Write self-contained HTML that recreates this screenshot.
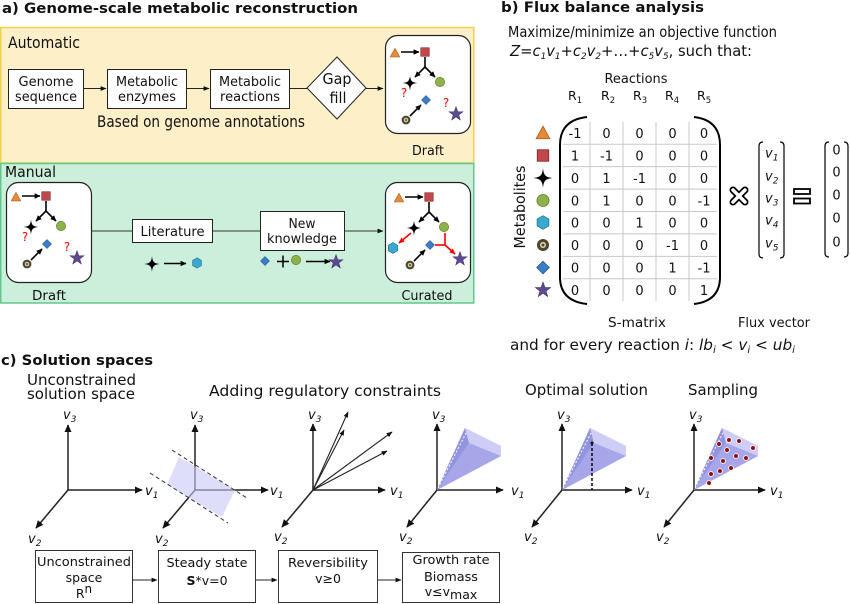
<!DOCTYPE html>
<html><head><meta charset="utf-8"><style>
html,body{margin:0;padding:0;background:#fff;}
svg{display:block;}
text{font-family:"DejaVu Sans","Liberation Sans",sans-serif;fill:#111;}
.it{font-style:italic;}
</style></head><body>
<svg width="850" height="604" viewBox="0 0 850 604" xmlns="http://www.w3.org/2000/svg">
<defs>
 <marker id="ah" viewBox="0 0 10 10" refX="9" refY="5" markerWidth="8" markerHeight="8" orient="auto" markerUnits="userSpaceOnUse"><path d="M0,0.5 L10,5 L0,9.5 z" fill="#111"/></marker>
 <marker id="ahs" viewBox="0 0 10 10" refX="9" refY="5" markerWidth="6" markerHeight="6" orient="auto" markerUnits="userSpaceOnUse"><path d="M0,0.5 L10,5 L0,9.5 z" fill="#000"/></marker>
 <marker id="ahr" viewBox="0 0 10 10" refX="9" refY="5" markerWidth="6" markerHeight="6" orient="auto" markerUnits="userSpaceOnUse"><path d="M0,0.5 L10,5 L0,9.5 z" fill="#f00"/></marker>
 <marker id="aht" viewBox="0 0 10 10" refX="9" refY="5" markerWidth="6" markerHeight="6" orient="auto" markerUnits="userSpaceOnUse"><path d="M0,1 L10,5 L0,9 z" fill="#111"/></marker>

 <g id="tri"><polygon points="0,-6 6,5 -6,5" fill="#e8893a" stroke="#a85c1e" stroke-width="0.7"/></g>
 <g id="sq"><rect x="-5" y="-5" width="10" height="10" fill="#c2474b" stroke="#7a2426" stroke-width="0.7"/></g>
 <g id="st4"><path d="M0,-8 C0.6,-2 2,-0.6 8,0 C2,0.6 0.6,2 0,8 C-0.6,2 -2,0.6 -8,0 C-2,-0.6 -0.6,-2 0,-8Z" fill="#000"/></g>
 <g id="ci"><circle r="5.5" fill="#8db24b" stroke="#5a7a25" stroke-width="0.7"/></g>
 <g id="hx"><polygon points="0,-6.5 5.6,-3.25 5.6,3.25 0,6.5 -5.6,3.25 -5.6,-3.25" fill="#3aa9cd" stroke="#1d7395" stroke-width="0.7"/></g>
 <g id="rg"><circle r="5.5" fill="#4b4632"/><circle r="2.8" fill="#d9cfa4"/><circle r="1.3" fill="#4b4632"/></g>
 <g id="dm"><polygon points="0,-6 6,0 0,6 -6,0" fill="#3b7ec5" stroke="#1f5090" stroke-width="0.7"/></g>
 <g id="s5"><path d="M0,-7 L1.65,-2.27 L6.66,-2.16 L2.66,0.87 L4.11,5.66 L0,2.8 L-4.11,5.66 L-2.66,0.87 L-6.66,-2.16 L-1.65,-2.27 Z" fill="#5d4b8e" stroke="#3d2d6e" stroke-width="0.5"/></g>

 <g id="net">
  <use href="#tri" transform="translate(395,53) scale(0.8)"/>
  <line x1="401" y1="52" x2="419" y2="52" stroke="#000" stroke-width="1.6" marker-end="url(#ahs)"/>
  <use href="#sq" transform="translate(425,52) scale(0.85)"/>
  <line x1="425" y1="57" x2="425" y2="67" stroke="#000" stroke-width="1.6"/>
  <line x1="425" y1="67" x2="415" y2="77" stroke="#000" stroke-width="1.6" marker-end="url(#ahs)"/>
  <line x1="425" y1="67" x2="435" y2="77" stroke="#000" stroke-width="1.6" marker-end="url(#ahs)"/>
  <use href="#st4" transform="translate(410,83) scale(0.95)"/>
  <use href="#ci" transform="translate(440,82) scale(0.85)"/>
  <use href="#dm" transform="translate(426,100) scale(0.75)"/>
  <use href="#rg" transform="translate(406,120) scale(0.8)"/>
  <line x1="410" y1="116" x2="421" y2="105" stroke="#000" stroke-width="1.6" marker-end="url(#ahs)"/>
  <use href="#s5" transform="translate(456,114) scale(1.05)"/>
 </g>
</defs>

<!-- ================= Panel a ================= -->
<text x="2" y="13" font-size="14" font-weight="bold" textLength="356" lengthAdjust="spacingAndGlyphs">a) Genome-scale metabolic reconstruction</text>

<rect x="0.75" y="27.5" width="473" height="135.5" fill="#fdefc8" stroke="#f2d04c" stroke-width="1.5"/>
<rect x="0.75" y="163.5" width="473" height="139.5" fill="#ccefdb" stroke="#5fc98b" stroke-width="1.5"/>

<text x="8" y="48" font-size="16" textLength="72" lengthAdjust="spacingAndGlyphs">Automatic</text>
<text x="5" y="177" font-size="15" textLength="51" lengthAdjust="spacingAndGlyphs">Manual</text>

<rect x="8.5" y="69.5" width="75" height="39" fill="#fff" stroke="#222" stroke-width="1"/>
<rect x="107.5" y="69.5" width="79" height="39" fill="#fff" stroke="#222" stroke-width="1"/>
<rect x="210.5" y="69.5" width="79" height="39" fill="#fff" stroke="#222" stroke-width="1"/>
<text x="46" y="86" font-size="13" text-anchor="middle" textLength="55" lengthAdjust="spacingAndGlyphs">Genome</text>
<text x="46" y="101" font-size="13" text-anchor="middle" textLength="62" lengthAdjust="spacingAndGlyphs">sequence</text>
<text x="147" y="86" font-size="13" text-anchor="middle" textLength="62" lengthAdjust="spacingAndGlyphs">Metabolic</text>
<text x="147" y="101" font-size="13" text-anchor="middle" textLength="58" lengthAdjust="spacingAndGlyphs">enzymes</text>
<text x="250" y="86" font-size="13" text-anchor="middle" textLength="62" lengthAdjust="spacingAndGlyphs">Metabolic</text>
<text x="250" y="101" font-size="13" text-anchor="middle" textLength="60" lengthAdjust="spacingAndGlyphs">reactions</text>
<line x1="83.5" y1="88.5" x2="106" y2="88.5" stroke="#222" stroke-width="1" marker-end="url(#aht)"/>
<line x1="186.5" y1="88.5" x2="209" y2="88.5" stroke="#222" stroke-width="1" marker-end="url(#aht)"/>
<line x1="289.5" y1="88.5" x2="307" y2="88.5" stroke="#222" stroke-width="1"/>
<polygon points="337,57 366,88 337,119 307,88" fill="#fff" stroke="#222" stroke-width="1"/>
<text x="337" y="84" font-size="15" text-anchor="middle" textLength="29" lengthAdjust="spacingAndGlyphs">Gap</text>
<text x="338" y="103" font-size="15" text-anchor="middle" textLength="17" lengthAdjust="spacingAndGlyphs">fill</text>
<line x1="366" y1="88.5" x2="383" y2="88.5" stroke="#222" stroke-width="1" marker-end="url(#aht)"/>
<text x="97" y="127" font-size="16" textLength="208" lengthAdjust="spacingAndGlyphs">Based on genome annotations</text>

<!-- auto draft -->
<rect x="385.5" y="35.5" width="85" height="98" rx="12" fill="#fff" stroke="#222" stroke-width="1.2"/>
<use href="#net"/>
<text x="404" y="97" font-size="12" style="fill:#f00" text-anchor="middle">?</text>
<text x="446" y="107" font-size="12" style="fill:#f00" text-anchor="middle">?</text>
<text x="428" y="155" font-size="13" text-anchor="middle" textLength="32" lengthAdjust="spacingAndGlyphs">Draft</text>

<!-- manual draft -->
<rect x="6.5" y="182.5" width="85" height="100" rx="12" fill="#fff" stroke="#222" stroke-width="1.2"/>
<use href="#net" transform="translate(-379,144)"/>
<text x="25" y="241" font-size="12" style="fill:#f00" text-anchor="middle">?</text>
<text x="67" y="251" font-size="12" style="fill:#f00" text-anchor="middle">?</text>
<text x="49" y="300" font-size="13" text-anchor="middle" textLength="34" lengthAdjust="spacingAndGlyphs">Draft</text>

<line x1="91.5" y1="231" x2="132" y2="231" stroke="#333" stroke-width="1"/>
<rect x="132.5" y="219.5" width="80" height="23" fill="#fff" stroke="#222" stroke-width="1"/>
<text x="172.5" y="236" font-size="13" text-anchor="middle" textLength="64" lengthAdjust="spacingAndGlyphs">Literature</text>
<line x1="212.5" y1="231" x2="260" y2="231" stroke="#333" stroke-width="1"/>
<rect x="260.5" y="211.5" width="84" height="39" fill="#fff" stroke="#222" stroke-width="1"/>
<text x="302" y="228" font-size="13" text-anchor="middle" textLength="27" lengthAdjust="spacingAndGlyphs">New</text>
<text x="302" y="243" font-size="13" text-anchor="middle" textLength="70" lengthAdjust="spacingAndGlyphs">knowledge</text>
<line x1="344.5" y1="231" x2="383" y2="231" stroke="#333" stroke-width="1" marker-end="url(#aht)"/>

<use href="#st4" transform="translate(152,264)"/>
<line x1="164" y1="263.5" x2="186" y2="263.5" stroke="#000" stroke-width="1.6" marker-end="url(#ahs)"/>
<use href="#hx" transform="translate(197,263) scale(0.8)"/>
<use href="#dm" transform="translate(265,261) scale(0.75)"/>
<line x1="277" y1="261.5" x2="289" y2="261.5" stroke="#000" stroke-width="1.5"/>
<line x1="283" y1="255.5" x2="283" y2="267.5" stroke="#000" stroke-width="1.5"/>
<use href="#ci" transform="translate(296,260) scale(0.85)"/>
<line x1="306" y1="261.5" x2="330" y2="261.5" stroke="#000" stroke-width="1.6" marker-end="url(#ahs)"/>
<use href="#s5" transform="translate(336,262) scale(1.05)"/>

<!-- curated -->
<rect x="385.5" y="182.5" width="85" height="100" rx="12" fill="#fff" stroke="#222" stroke-width="1.2"/>
<use href="#net" transform="translate(4,145)"/>
<use href="#hx" transform="translate(393,248) scale(0.85)"/>
<line x1="411" y1="233" x2="399" y2="243" stroke="#f00" stroke-width="1.6" marker-end="url(#ahr)"/>
<line x1="445" y1="233" x2="445" y2="245" stroke="#f00" stroke-width="1.6"/>
<line x1="435" y1="245" x2="445" y2="245" stroke="#f00" stroke-width="1.6"/>
<line x1="445" y1="245" x2="455" y2="254" stroke="#f00" stroke-width="1.6" marker-end="url(#ahr)"/>
<text x="427" y="300" font-size="13" text-anchor="middle" textLength="51" lengthAdjust="spacingAndGlyphs">Curated</text>

<!-- ================= Panel b ================= -->
<text x="501" y="12" font-size="14" font-weight="bold" textLength="203" lengthAdjust="spacingAndGlyphs">b) Flux balance analysis</text>
<text x="508" y="37" font-size="15.5" textLength="269" lengthAdjust="spacingAndGlyphs">Maximize/minimize an objective function</text>
<text x="510" y="56" font-size="15" textLength="242" lengthAdjust="spacingAndGlyphs"><tspan class="it">Z</tspan>=<tspan class="it">c</tspan><tspan class="it" font-size="9" dy="3">1</tspan><tspan class="it" dy="-3">v</tspan><tspan class="it" font-size="9" dy="3">1</tspan><tspan dy="-3">+</tspan><tspan class="it">c</tspan><tspan class="it" font-size="9" dy="3">2</tspan><tspan class="it" dy="-3">v</tspan><tspan class="it" font-size="9" dy="3">2</tspan><tspan dy="-3">+…+</tspan><tspan class="it">c</tspan><tspan class="it" font-size="9" dy="3">5</tspan><tspan class="it" dy="-3">v</tspan><tspan class="it" font-size="9" dy="3">5</tspan><tspan dy="-3">, such that:</tspan></text>

<text x="636" y="83" font-size="13" text-anchor="middle" textLength="63" lengthAdjust="spacingAndGlyphs">Reactions</text>
<text x="568" y="100" font-size="12.5">R<tspan font-size="8.5" dy="3">1</tspan></text>
<text x="601" y="100" font-size="12.5">R<tspan font-size="8.5" dy="3">2</tspan></text>
<text x="633" y="100" font-size="12.5">R<tspan font-size="8.5" dy="3">3</tspan></text>
<text x="665" y="100" font-size="12.5">R<tspan font-size="8.5" dy="3">4</tspan></text>
<text x="697" y="100" font-size="12.5">R<tspan font-size="8.5" dy="3">5</tspan></text>

<text transform="translate(525,207) rotate(-90)" x="0" y="0" font-size="15" text-anchor="middle" textLength="83" lengthAdjust="spacingAndGlyphs">Metabolites</text>

<use href="#tri" transform="translate(543,133) scale(1.15)"/>
<use href="#sq" transform="translate(543,155.5) scale(1.15)"/>
<use href="#st4" transform="translate(543,178) scale(1.25)"/>
<use href="#ci" transform="translate(543,200.5) scale(1.1)"/>
<use href="#hx" transform="translate(543,222.5) scale(1.05)"/>
<use href="#rg" transform="translate(543,245) scale(1.1)"/>
<use href="#dm" transform="translate(543,267.5) scale(1.05)"/>
<use href="#s5" transform="translate(543,290) scale(1.15)"/>

<g stroke="#c8c8c8" stroke-width="1">
 <line x1="563" y1="144.2" x2="717" y2="144.2"/>
 <line x1="563" y1="166.6" x2="717" y2="166.6"/>
 <line x1="563" y1="189.1" x2="717" y2="189.1"/>
 <line x1="563" y1="211.5" x2="717" y2="211.5"/>
 <line x1="563" y1="233.9" x2="717" y2="233.9"/>
 <line x1="563" y1="256.4" x2="717" y2="256.4"/>
 <line x1="563" y1="278.8" x2="717" y2="278.8"/>
 <line x1="590" y1="122" x2="590" y2="301"/>
 <line x1="623" y1="122" x2="623" y2="301"/>
 <line x1="656" y1="122" x2="656" y2="301"/>
 <line x1="689" y1="122" x2="689" y2="301"/>
</g>
<path d="M587,117 Q560,120 560,145 L560,277 Q560,301 587,304" fill="none" stroke="#000" stroke-width="2"/>
<path d="M694,117 Q720,120 720,145 L720,277 Q720,301 694,304" fill="none" stroke="#000" stroke-width="2"/>

<g font-size="13" text-anchor="middle">
 <text x="575" y="138">-1</text><text x="606.5" y="138">0</text><text x="639.5" y="138">0</text><text x="672.5" y="138">0</text><text x="704" y="138">0</text>
 <text x="575" y="160.4">1</text><text x="606.5" y="160.4">-1</text><text x="639.5" y="160.4">0</text><text x="672.5" y="160.4">0</text><text x="704" y="160.4">0</text>
 <text x="575" y="182.9">0</text><text x="606.5" y="182.9">1</text><text x="639.5" y="182.9">-1</text><text x="672.5" y="182.9">0</text><text x="704" y="182.9">0</text>
 <text x="575" y="205.3">0</text><text x="606.5" y="205.3">1</text><text x="639.5" y="205.3">0</text><text x="672.5" y="205.3">0</text><text x="704" y="205.3">-1</text>
 <text x="575" y="227.7">0</text><text x="606.5" y="227.7">0</text><text x="639.5" y="227.7">1</text><text x="672.5" y="227.7">0</text><text x="704" y="227.7">0</text>
 <text x="575" y="250.1">0</text><text x="606.5" y="250.1">0</text><text x="639.5" y="250.1">0</text><text x="672.5" y="250.1">-1</text><text x="704" y="250.1">0</text>
 <text x="575" y="272.6">0</text><text x="606.5" y="272.6">0</text><text x="639.5" y="272.6">0</text><text x="672.5" y="272.6">1</text><text x="704" y="272.6">-1</text>
 <text x="575" y="295">0</text><text x="606.5" y="295">0</text><text x="639.5" y="295">0</text><text x="672.5" y="295">0</text><text x="704" y="295">1</text>
</g>

<!-- times symbol -->
<line x1="733" y1="190" x2="745" y2="202" stroke="#000" stroke-width="7" stroke-linecap="round"/>
<line x1="745" y1="190" x2="733" y2="202" stroke="#000" stroke-width="7" stroke-linecap="round"/>
<line x1="733" y1="190" x2="745" y2="202" stroke="#fff" stroke-width="3.5" stroke-linecap="round"/>
<line x1="745" y1="190" x2="733" y2="202" stroke="#fff" stroke-width="3.5" stroke-linecap="round"/>

<!-- flux vector -->
<path d="M763,142 Q759,142 759,146 L759,254 Q759,258 763,258" fill="none" stroke="#000" stroke-width="1.2"/>
<path d="M780,142 Q784,142 784,146 L784,254 Q784,258 780,258" fill="none" stroke="#000" stroke-width="1.2"/>
<g font-size="13" class="it">
 <text x="765" y="157.5">v<tspan font-size="9" dy="3">1</tspan></text>
 <text x="765" y="180.5">v<tspan font-size="9" dy="3">2</tspan></text>
 <text x="765" y="202.5">v<tspan font-size="9" dy="3">3</tspan></text>
 <text x="765" y="224.5">v<tspan font-size="9" dy="3">4</tspan></text>
 <text x="765" y="247.5">v<tspan font-size="9" dy="3">5</tspan></text>
</g>

<!-- equals -->
<rect x="794" y="189" width="16" height="5" fill="#fff" stroke="#000" stroke-width="1.8"/>
<rect x="794" y="198.5" width="16" height="5" fill="#fff" stroke="#000" stroke-width="1.8"/>

<!-- zero vector -->
<path d="M829,142 Q825,142 825,146 L825,253 Q825,257 829,257" fill="none" stroke="#000" stroke-width="1.2"/>
<path d="M844,142 Q848,142 848,146 L848,253 Q848,257 844,257" fill="none" stroke="#000" stroke-width="1.2"/>
<g font-size="13" text-anchor="middle">
 <text x="836.5" y="154.5">0</text>
 <text x="836.5" y="176.5">0</text>
 <text x="836.5" y="199.5">0</text>
 <text x="836.5" y="222.5">0</text>
 <text x="836.5" y="246.5">0</text>
</g>

<text x="608" y="327" font-size="13" textLength="58" lengthAdjust="spacingAndGlyphs">S-matrix</text>
<text x="738" y="327" font-size="13" textLength="72" lengthAdjust="spacingAndGlyphs">Flux vector</text>
<text x="510" y="350" font-size="15" textLength="285" lengthAdjust="spacingAndGlyphs">and for every reaction <tspan class="it">i</tspan>: <tspan class="it">lb</tspan><tspan class="it" font-size="10" dy="3">i</tspan><tspan dy="-3"> &lt; </tspan><tspan class="it">v</tspan><tspan class="it" font-size="10" dy="3">i</tspan><tspan dy="-3"> &lt; </tspan><tspan class="it">ub</tspan><tspan class="it" font-size="10" dy="3">i</tspan></text>

<!-- ================= Panel c ================= -->
<text x="1" y="365" font-size="14" font-weight="bold" textLength="152" lengthAdjust="spacingAndGlyphs">c) Solution spaces</text>
<text x="27" y="385" font-size="15" textLength="109" lengthAdjust="spacingAndGlyphs">Unconstrained</text>
<text x="27" y="399" font-size="15" textLength="108" lengthAdjust="spacingAndGlyphs">solution space</text>
<text x="209" y="396" font-size="15" textLength="232" lengthAdjust="spacingAndGlyphs">Adding  regulatory  constraints</text>
<text x="525" y="395" font-size="15" textLength="123" lengthAdjust="spacingAndGlyphs">Optimal solution</text>
<text x="688" y="395" font-size="15" textLength="70" lengthAdjust="spacingAndGlyphs">Sampling</text>

<!-- axes -->
<g stroke="#222" stroke-width="1.5" fill="none">
 <line x1="68" y1="490" x2="68" y2="425" marker-end="url(#ah)"/>
 <line x1="68" y1="490" x2="142" y2="490" marker-end="url(#ah)"/>
 <line x1="68" y1="490" x2="36" y2="528" marker-end="url(#ah)"/>

 <line x1="195" y1="490" x2="195" y2="425" marker-end="url(#ah)"/>
 <line x1="195" y1="490" x2="268" y2="490" marker-end="url(#ah)"/>
 <line x1="195" y1="490" x2="163" y2="528" marker-end="url(#ah)"/>

 <line x1="313" y1="490" x2="313" y2="424" marker-end="url(#ah)"/>
 <line x1="313" y1="490" x2="385" y2="490" marker-end="url(#ah)"/>
 <line x1="313" y1="490" x2="282" y2="527" marker-end="url(#ah)"/>

 <line x1="437" y1="490" x2="437" y2="424" marker-end="url(#ah)"/>
 <line x1="437" y1="490" x2="503" y2="490" marker-end="url(#ah)"/>
 <line x1="437" y1="490" x2="407" y2="527" marker-end="url(#ah)"/>

 <line x1="562" y1="490" x2="562" y2="424" marker-end="url(#ah)"/>
 <line x1="562" y1="490" x2="632" y2="490" marker-end="url(#ah)"/>
 <line x1="562" y1="490" x2="532" y2="527" marker-end="url(#ah)"/>

 <line x1="694" y1="490" x2="694" y2="424" marker-end="url(#ah)"/>
 <line x1="694" y1="490" x2="765" y2="490" marker-end="url(#ah)"/>
 <line x1="694" y1="490" x2="664" y2="527" marker-end="url(#ah)"/>
</g>

<!-- steady-state plane -->
<polygon points="179,457 235,490 222,517 167,485" fill="#c8c8f6" opacity="0.6"/>
<line x1="172" y1="450" x2="247" y2="498" stroke="#333" stroke-width="1" stroke-dasharray="4,3"/>
<line x1="150" y1="473" x2="228" y2="523" stroke="#333" stroke-width="1" stroke-dasharray="4,3"/>

<!-- reversibility vectors -->
<g stroke="#222" stroke-width="1.1">
 <line x1="313" y1="490" x2="348" y2="412" marker-end="url(#aht)"/>
 <line x1="313" y1="490" x2="344" y2="430" marker-end="url(#aht)"/>
 <line x1="313" y1="490" x2="392" y2="432" marker-end="url(#aht)"/>
 <line x1="313" y1="490" x2="387" y2="451" marker-end="url(#aht)"/>
</g>

<!-- pyramids -->
<g>
 <polygon points="437,490 465,428 501,446 501,456" fill="#bcbcf0"/>
 <polygon points="437,490 465,428 469,443" fill="#9393e0"/>
 <polygon points="437,490 469,443 501,456" fill="#a6a6e8"/>
 <polygon points="465,428 501,446 501,456 469,443" fill="#cdcdf5"/>
 <line x1="438" y1="488" x2="466" y2="433" stroke="#fff" stroke-width="1" stroke-dasharray="2,2"/>
</g>
<g>
 <polygon points="562,490 590,428 626,446 626,456" fill="#bcbcf0"/>
 <polygon points="562,490 590,428 594,443" fill="#9393e0"/>
 <polygon points="562,490 594,443 626,456" fill="#a6a6e8"/>
 <polygon points="590,428 626,446 626,456 594,443" fill="#cdcdf5"/>
 <line x1="563" y1="488" x2="591" y2="433" stroke="#fff" stroke-width="1" stroke-dasharray="2,2"/>
 <line x1="592" y1="443" x2="592" y2="490" stroke="#111" stroke-width="1.6" stroke-dasharray="3,2"/>
 <circle cx="592" cy="443" r="1.5" fill="#111"/>
</g>
<g>
 <polygon points="694,490 722,428 758,446 758,456" fill="#bcbcf0"/>
 <polygon points="694,490 722,428 726,443" fill="#9393e0"/>
 <polygon points="694,490 726,443 758,456" fill="#a6a6e8"/>
 <polygon points="722,428 758,446 758,456 726,443" fill="#cdcdf5"/>
 <line x1="695" y1="488" x2="723" y2="433" stroke="#fff" stroke-width="1" stroke-dasharray="2,2"/>
 <g fill="#8b1010" stroke="#fff" stroke-width="0.8">
  <circle cx="719" cy="444" r="2.4"/><circle cx="729" cy="440" r="2.4"/><circle cx="739" cy="441" r="2.4"/>
  <circle cx="753" cy="448" r="2.4"/><circle cx="727" cy="450" r="2.4"/><circle cx="711" cy="458" r="2.4"/>
  <circle cx="723" cy="461" r="2.4"/><circle cx="736" cy="456" r="2.4"/><circle cx="746" cy="458" r="2.4"/>
  <circle cx="711" cy="474" r="2.4"/><circle cx="720" cy="471" r="2.4"/><circle cx="731" cy="468" r="2.4"/>
  <circle cx="709" cy="483" r="2.4"/>
 </g>
</g>

<!-- axis labels -->
<g font-size="13" class="it">
 <text x="63" y="419">v<tspan font-size="9" dy="3">3</tspan></text>
 <text x="145" y="495">v<tspan font-size="9" dy="3">1</tspan></text>
 <text x="28" y="543">v<tspan font-size="9" dy="3">2</tspan></text>

 <text x="190" y="419">v<tspan font-size="9" dy="3">3</tspan></text>
 <text x="270" y="495">v<tspan font-size="9" dy="3">1</tspan></text>
 <text x="155" y="543">v<tspan font-size="9" dy="3">2</tspan></text>

 <text x="308" y="419">v<tspan font-size="9" dy="3">3</tspan></text>
 <text x="390" y="495">v<tspan font-size="9" dy="3">1</tspan></text>
 <text x="274" y="541">v<tspan font-size="9" dy="3">2</tspan></text>

 <text x="432" y="419">v<tspan font-size="9" dy="3">3</tspan></text>
 <text x="511" y="495">v<tspan font-size="9" dy="3">1</tspan></text>
 <text x="399" y="541">v<tspan font-size="9" dy="3">2</tspan></text>

 <text x="557" y="419">v<tspan font-size="9" dy="3">3</tspan></text>
 <text x="637" y="495">v<tspan font-size="9" dy="3">1</tspan></text>
 <text x="524" y="541">v<tspan font-size="9" dy="3">2</tspan></text>

 <text x="689" y="419">v<tspan font-size="9" dy="3">3</tspan></text>
 <text x="770" y="495">v<tspan font-size="9" dy="3">1</tspan></text>
 <text x="656" y="541">v<tspan font-size="9" dy="3">2</tspan></text>
</g>

<!-- bottom boxes -->
<g fill="#fff" stroke="#333" stroke-width="1">
 <rect x="35.5" y="550.5" width="97" height="52"/>
 <rect x="158.5" y="550.5" width="97" height="52"/>
 <rect x="278.5" y="550.5" width="99" height="52"/>
 <rect x="402.5" y="552.5" width="97" height="50"/>
</g>
<g stroke="#222" stroke-width="1">
 <line x1="132.5" y1="580" x2="157" y2="580" marker-end="url(#aht)"/>
 <line x1="255.5" y1="580" x2="277" y2="580" marker-end="url(#aht)"/>
 <line x1="377.5" y1="580" x2="401" y2="580" marker-end="url(#aht)"/>
</g>
<g font-size="12.5" text-anchor="middle">
 <text x="84" y="566" textLength="94" lengthAdjust="spacingAndGlyphs">Unconstrained</text>
 <text x="84" y="582">space</text>
 <text x="84" y="598">R<tspan font-size="12" dy="-5">n</tspan></text>
 <text x="207" y="567" textLength="81" lengthAdjust="spacingAndGlyphs">Steady state</text>
 <text x="207" y="585"><tspan font-weight="bold">S</tspan>*v=0</text>
 <text x="328" y="567" textLength="80" lengthAdjust="spacingAndGlyphs">Reversibility</text>
 <text x="328" y="583">v≥0</text>
 <text x="451" y="564" textLength="77" lengthAdjust="spacingAndGlyphs">Growth rate</text>
 <text x="451" y="581" textLength="54" lengthAdjust="spacingAndGlyphs">Biomass</text>
 <text x="451" y="596">v≤v<tspan font-size="12.5" dy="3">max</tspan></text>
</g>
</svg>
</body></html>
